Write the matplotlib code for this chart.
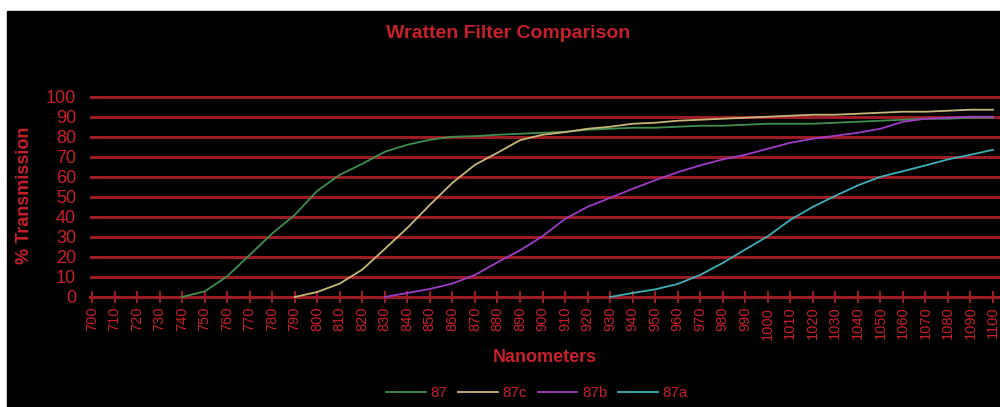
import matplotlib
matplotlib.use("Agg")
import matplotlib.pyplot as plt
import numpy as np

plt.rcParams['font.family'] = ['Liberation Sans Narrow', 'Liberation Sans', 'DejaVu Sans']

# wavelength categories (nm)
nanometers = list(range(700, 1110, 10))

nan = np.nan
f87 = [nan] * 4 + [0, 2.8, 10.3, 21, 31.7, 41, 53, 61, 66.5, 72.5,
                   76, 78.5, 80, 80.3, 81, 81.5, 82, 82.5, 83.5, 84,
                   84.5, 84.5, 85, 85.5, 85.5, 86, 86.5, 86.5, 86.5, 87,
                   87.5, 88, 88.5, 89, 89, 89.5, 89.5]
f87c = [nan] * 9 + [0, 2.5, 6.7, 13.7, 24, 34.5, 46, 57, 66, 72,
                    78.3, 81, 82.3, 84, 85, 86.5, 87, 88, 88.5, 89,
                    89.5, 90, 90.5, 91, 91, 91.5, 92, 92.5, 92.5, 93,
                    93.5, 93.5]
f87b = [nan] * 13 + [0, 2, 4, 6.7, 11, 17.3, 23.3, 30.3, 39, 45,
                     49.5, 54, 58.3, 62.3, 65.7, 68.7, 71, 74, 77, 79,
                     80.5, 82, 84, 87.5, 89, 89.5, 90, 90]
f87a = [nan] * 23 + [0, 2, 3.8, 6.5, 11, 17, 23.7, 30.3, 38.5, 45,
                     50.5, 55.7, 60, 62.8, 65.7, 68.7, 71, 73.5]

series = [("87", f87, "#3f8f50"),
          ("87c", f87c, "#c8b878"),
          ("87b", f87b, "#a03cc8"),
          ("87a", f87a, "#40b0b8")]

red = "#c8202a"
grid_red = "#9b1c24"

fig = plt.figure(figsize=(10, 4.07), dpi=100, facecolor="white")
# black panel (small white margin top/left like the source)
fig.patches.append(plt.Rectangle((7 / 1000, 0), 1 - 7 / 1000, 1 - 11 / 407,
                                 transform=fig.transFigure, color="black", zorder=-10))

ax = fig.add_axes([90 / 1000, (407 - 300) / 407, 910 / 1000, 205 / 407])
ax.set_facecolor("black")

for name, vals, col in series:
    ax.plot(nanometers, vals, color=col, lw=1.3, label=name, zorder=3)

ax.set_xlim(700 - 2 / 2.2525, 1100 + 7 / 2.2525)
ax.set_ylim(-1.5, 100.85)

ax.set_yticks(range(0, 101, 10))
ax.set_xticks(nanometers)
ax.set_xticklabels([str(n) for n in nanometers])
ax.tick_params(axis='y', length=0, pad=10, labelsize=13, labelcolor=red)
ax.tick_params(axis='x', direction='inout', length=8, width=1.5, color=grid_red,
               pad=3, labelsize=10.5, labelcolor=red, labelrotation=90)

for y in range(10, 101, 10):
    ax.axhline(y, color=grid_red, lw=2.2, zorder=1)

for s in ['top', 'right', 'left']:
    ax.spines[s].set_visible(False)
ax.spines['bottom'].set_position(('data', 0))
ax.spines['bottom'].set_color(grid_red)
ax.spines['bottom'].set_linewidth(2.2)

fig.text(0.508, 1 - 34 / 407, "Wratten Filter Comparison", color=red,
         fontsize=14, fontweight='bold', ha='center', va='center')
fig.text(0.545, 1 - 357 / 407, "Nanometers", color=red,
         fontsize=13, fontweight='bold', ha='center', va='center')
fig.text(0.025, 1 - 195 / 407, "% Transmission", color=red, rotation=90,
         fontsize=13, fontweight='bold', ha='center', va='center')

leg = fig.legend(loc='center', bbox_to_anchor=(0.537, 1 - 393 / 407), ncol=4,
                 frameon=False, fontsize=11, handlelength=2.6, columnspacing=0.7,
                 handletextpad=0.3)
for t in leg.get_texts():
    t.set_color(red)

fig.savefig("out.png", dpi=100, facecolor=fig.get_facecolor())
